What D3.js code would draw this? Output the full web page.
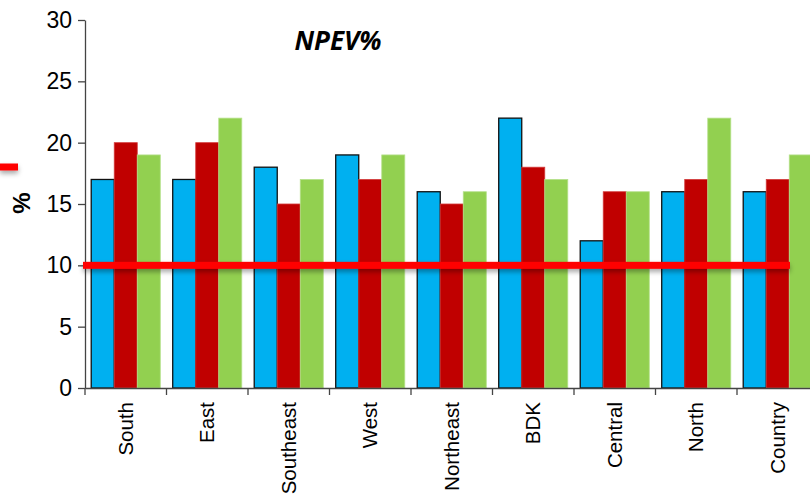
<!DOCTYPE html>
<html>
<head>
<meta charset="utf-8">
<script src="https://cdn.jsdelivr.net/npm/d3@7"></script>
<style>
  body { margin: 0; background: #fff; }
  svg { display: block; }
</style>
</head>
<body>
<div id="chart"></div>
<script>
// chart data
var categories = ["South", "East", "Southeast", "West", "Northeast", "BDK", "Central", "North", "Country"];
var seriesNames = ["s1", "s2", "s3"];
var series1 = [17, 17, 18, 19, 16, 22, 12, 16, 16];
var series2 = [20, 20, 15, 17, 15, 18, 16, 17, 17];
var series3 = [19, 22, 17, 19, 16, 17, 16, 22, 19];
var yTicks = [0, 5, 10, 15, 20, 25, 30];
var targetValue = 10;

var colors = {s1: "#00B0F0", s2: "#C00000", s3: "#92D050"};
var strokes = {s1: "#111", s2: "#d23a3a", s3: "#b4e08a"};

var width = 810, height = 496;
var plotLeft = 85, plotTop = 20, plotBottom = 388;

var svg = d3.select("#chart").append("svg")
    .attr("width", width)
    .attr("height", height);

var defs = svg.append("defs");
var shadow = defs.append("filter").attr("id", "shadow")
    .attr("filterUnits", "userSpaceOnUse")
    .attr("x", 0).attr("y", 0).attr("width", width).attr("height", height);
shadow.append("feDropShadow")
    .attr("dx", 0).attr("dy", 3).attr("stdDeviation", 2.5)
    .attr("flood-color", "#000").attr("flood-opacity", 0.35);

var x0 = d3.scaleBand().domain(categories).range([plotLeft, plotLeft + 9 * 81.5]).padding(0);
var x1 = d3.scaleBand().domain(seriesNames).range([0, x0.bandwidth()]).paddingInner(0).paddingOuter(0.27);
var y = d3.scaleLinear().domain([0, 30]).range([plotBottom, plotTop]);

var rows = categories.map(function(c, i) {
    return {cat: c, s1: series1[i], s2: series2[i], s3: series3[i]};
});

// bars
var groups = svg.selectAll(".grp")
    .data(rows)
    .enter().append("g")
    .attr("class", "grp")
    .attr("transform", function(d) { return "translate(" + x0(d.cat) + ",0)"; });

groups.selectAll("rect")
    .data(function(d) { return seriesNames.map(function(k) { return {key: k, value: d[k]}; }); })
    .enter().append("rect")
    .attr("x", function(d) { return x1(d.key); })
    .attr("y", function(d) { return y(d.value); })
    .attr("width", x1.bandwidth())
    .attr("height", function(d) { return plotBottom - y(d.value); })
    .attr("fill", function(d) { return colors[d.key]; })
    .attr("stroke", function(d) { return strokes[d.key]; })
    .attr("stroke-width", function(d) { return d.key === "s1" ? 1.3 : 0.8; });

// y axis
var yAxis = d3.axisLeft(y).tickValues(yTicks).tickSize(7).tickSizeOuter(0).tickPadding(8);
var gy = svg.append("g")
    .attr("transform", "translate(" + plotLeft + ",0)")
    .call(yAxis);
gy.select(".domain").attr("stroke", "#444").attr("stroke-width", 1.3);
gy.selectAll(".tick line").attr("stroke", "#444").attr("stroke-width", 1.3);
gy.selectAll(".tick text")
    .attr("font-family", "Liberation Sans, Arial, sans-serif")
    .attr("font-size", 23)
    .attr("fill", "#000")
    .attr("x", -13);

// x axis
var xAxis = d3.axisBottom(x0).tickSize(0).tickSizeOuter(0).tickPadding(14);
var gx = svg.append("g")
    .attr("transform", "translate(0," + plotBottom + ")")
    .call(xAxis);
gx.select(".domain").attr("stroke", "#444").attr("stroke-width", 1.3);
gx.selectAll(".tick text")
    .attr("font-family", "Liberation Sans, Arial, sans-serif")
    .attr("font-size", 20.5)
    .attr("fill", "#000")
    .attr("transform", "rotate(-90)")
    .attr("text-anchor", "end")
    .attr("x", -14)
    .attr("y", 0)
    .attr("dy", "0.35em");

// category boundary ticks
gx.selectAll(".sep")
    .data(categories)
    .enter().append("line")
    .attr("class", "sep")
    .attr("x1", function(d) { return x0(d); })
    .attr("x2", function(d) { return x0(d); })
    .attr("y1", 0)
    .attr("y2", 7)
    .attr("stroke", "#444")
    .attr("stroke-width", 1.3);

// target line
svg.append("rect")
    .attr("x", plotLeft - 2)
    .attr("width", 790 - plotLeft + 2)
    .attr("y", y(targetValue) - 3.5)
    .attr("height", 7)
    .attr("fill", "#FF0000")
    .attr("filter", "url(#shadow)");

// legend fragment at left edge
svg.append("rect")
    .attr("x", 0)
    .attr("width", 18)
    .attr("y", 163.5)
    .attr("height", 7)
    .attr("fill", "#FF0000")
    .attr("filter", "url(#shadow)");

// title
svg.append("text")
    .attr("x", 338)
    .attr("y", 50)
    .attr("text-anchor", "middle")
    .attr("font-family", "Open Sans, Liberation Sans, sans-serif")
    .attr("font-weight", "bold")
    .attr("font-style", "italic")
    .attr("font-size", 26)
    .text("NPEV%");

// y label
svg.append("text")
    .attr("transform", "translate(30,203) rotate(-90)")
    .attr("text-anchor", "middle")
    .attr("font-family", "Liberation Sans, Arial, sans-serif")
    .attr("font-weight", "bold")
    .attr("font-size", 24)
    .text("%");
</script>
</body>
</html>
